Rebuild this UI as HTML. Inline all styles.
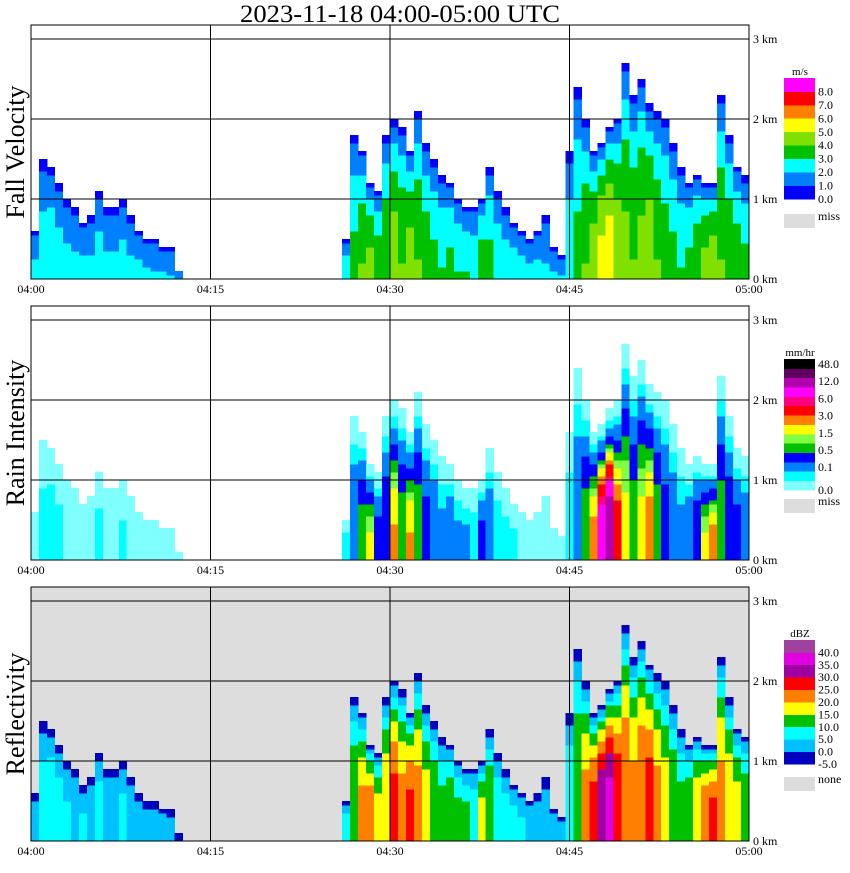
<!DOCTYPE html>
<html><head><meta charset="utf-8"><style>
html,body{margin:0;padding:0;background:#fff;}
svg text{font-family:"Liberation Serif",serif;fill:#000;}
</style></head><body>
<svg id="chart" width="850" height="868" xmlns="http://www.w3.org/2000/svg">
<text x="400" y="22" font-size="25" text-anchor="middle" textLength="320" lengthAdjust="spacingAndGlyphs">2023-11-18  04:00-05:00 UTC</text>
</svg>
<script>
// echo top height (km) per 40-second column, 04:00 -> 05:00
const echoTops = [0.6,1.5,1.4,1.2,1.0,0.9,0.7,0.8,1.1,0.9,0.9,1.0,0.8,0.6,0.5,0.5,0.4,0.4,0.1,
 0,0,0,0,0,0,0,0,0,0,0,0,0,0,0,0,0,0,0,0,
 0.5,1.8,1.6,1.2,1.1,1.8,2.0,1.9,1.6,2.1,1.7,1.5,1.3,1.2,1.0,0.9,0.9,1.0,1.4,1.1,0.9,0.7,0.6,0.5,0.6,0.8,0.4,0.3,
 1.6,2.4,2.0,1.6,1.7,1.9,2.0,2.7,2.3,2.5,2.2,2.1,2.0,1.7,1.4,1.2,1.3,1.2,1.2,2.3,1.8,1.4,1.3];
// peak low-level reflectivity (dBZ) per column
const peakDbz = [5,8,10,8,6,5,6,5,8,5,5,7,5,5,4,3,3,2,0,
 0,0,0,0,0,0,0,0,0,0,0,0,0,0,0,0,0,0,0,0,
 10,15,22,25,18,20,27,22,27,22,18,15,12,15,12,12,10,18,15,10,8,8,6,5,5,3,3,2,
 10,15,22,28,35,38,30,25,22,25,28,22,18,15,12,15,20,25,28,22,20,18,15];
const timeLabels = ["04:00","04:15","04:30","04:45","05:00"];
const kmLabels = ["0 km","1 km","2 km","3 km"];
const velBounds = [0,1,2,3,4,5,6,7,8];
const velColors = ["#0000ff","#0080ff","#00ffff","#00c000","#80e000","#ffff00","#ff8000","#ff0000","#ff00ff"];
const velLabels = ["8.0","7.0","6.0","5.0","4.0","3.0","2.0","1.0","0.0"];
const rainBounds = [0,0.1,0.2,0.5,1,1.5,2,3,4,6,8,12,24,48];
const rainColors = ["#80ffff","#00ffff","#0080ff","#0000ff","#00c000","#80ff40","#ffff00","#ff8000","#ff0000","#ff0080","#ff00ff","#b000b0","#600060","#000000"];
const rainLabels = ["48.0","12.0","6.0","3.0","1.5","0.5","0.1","0.0"];
const dbzBounds = [-5,0,5,10,15,20,25,30,35,40];
const dbzColors = ["#0000c0","#00c0ff","#00ffff","#00c000","#ffff00","#ff8000","#ff0000","#a000a0","#e000e0","#a040a0"];
const dbzLabels = ["40.0","35.0","30.0","25.0","20.0","15.0","10.0","5.0","0.0","-5.0"];

const svg = document.getElementById('chart');
const NS = "http://www.w3.org/2000/svg";
const X0 = 31, X1 = 749, PX_KM = 80;
const nCol = echoTops.length;
const colW = (X1 - X0) / nCol;
const xScale = i => X0 + i * colW;
const panels = [
 {top:25, name:'fall-velocity', title:'Fall Velocity', bg:'#ffffff'},
 {top:306, name:'rain-intensity', title:'Rain Intensity', bg:'#ffffff'},
 {top:587, name:'reflectivity', title:'Reflectivity', bg:'#dddddd'}];
function mk(tag, attrs, parent){ const e=document.createElementNS(NS,tag); for(const k in attrs) e.setAttribute(k,attrs[k]); (parent||svg).appendChild(e); return e; }
function pick(v, bounds, colors){ let c=null; for(let k=0;k<bounds.length;k++){ if(v>=bounds[k]) c=colors[k]; } return c; }
function dbzAt(i,h){ const t=echoTops[i]; if(!t||h>t) return null; const f=h/t; return peakDbz[i]*(1-f*f*f)-3*f*f*f*f; }

panels.forEach((p,pi)=>{
 const bottom = p.top + 254;
 const yScale = km => bottom - km*PX_KM;
 const g = mk('g',{});
 
 
 const bgR = mk('rect',{x:X0,y:p.top,width:X1-X0,height:254,fill:p.bg},g);
 
 
 const cells = mk('g',{'shape-rendering':'crispEdges'},g);
 
 
 const dh = 0.05;
 for(let i=0;i<nCol;i++){
  for(let h=0;h<echoTops[i];h+=dh){
   const z = dbzAt(i,h+dh/2); if(z===null) continue;
   let col;
   if(pi===0){ const v=0.9+z*0.1+1.0*(1-h/echoTops[i]); col=pick(Math.max(v,0),velBounds,velColors); }
   else if(pi===1){ const r=Math.pow(Math.pow(10,z/10)/100,1/1.4); col=pick(r,rainBounds,rainColors); }
   else col=pick(z,dbzBounds,dbzColors);
   if(!col) continue;
   const r = mk('rect',{x:xScale(i).toFixed(2),y:yScale(h+dh).toFixed(2),width:(colW+0.3).toFixed(2),height:(dh*PX_KM+0.3).toFixed(2),fill:col},cells);
   
   
  }
 }
 for(let k=1;k<4;k++){ const x=X0+k*(X1-X0)/4; const l=mk('line',{x1:x,x2:x,y1:p.top,y2:bottom,stroke:'#000','stroke-width':1},g);
    }
 for(let k=1;k<4;k++){ const y=yScale(k); const l=mk('line',{x1:X0,x2:X1,y1:y,y2:y,stroke:'#000','stroke-width':1},g);
    }
 const fr = mk('rect',{x:X0,y:p.top,width:X1-X0,height:254,fill:'none',stroke:'#000','stroke-width':1},g);
  
 timeLabels.forEach((t,k)=>{ const x=X0+k*(X1-X0)/4; const tx=mk('text',{x:x,y:bottom+14,'font-size':12,'text-anchor':'middle'},g); tx.textContent=t;
    });
 kmLabels.forEach((t,k)=>{ const tx=mk('text',{x:753,y:yScale(k)+4,'font-size':12},g); tx.textContent=t;
    });
 const yt = mk('text',{x:0,y:0,'font-size':26,'text-anchor':'middle',transform:`translate(24,${p.top+127}) rotate(-90)`},g);
 yt.textContent = p.title;
  
 const lg = mk('g',{'shape-rendering':'crispEdges'},g);
  
 let colors, ltop, lbot, unit, labs, missY, missTxt;
 if(pi===0){colors=velColors;ltop=78;lbot=199;unit='m/s';labs=velLabels;missY=214;missTxt='miss';}
 else if(pi===1){colors=rainColors;ltop=359;lbot=490;unit='mm/hr';labs=rainLabels;missY=499;missTxt='miss';}
 else {colors=dbzColors;ltop=640;lbot=764;unit='dBZ';labs=dbzLabels;missY=777;missTxt='none';}
 const bh=(lbot-ltop)/colors.length;
 const ut=mk('text',{x:800,y:ltop-3,'font-size':11,'text-anchor':'middle'},lg); ut.textContent=unit;
  
 for(let k=0;k<colors.length;k++){
  const r=mk('rect',{x:784,y:(lbot-(k+1)*bh).toFixed(2),width:31,height:(bh+0.4).toFixed(2),fill:colors[k]},lg);
   
 }
 labs.forEach((t,k)=>{
  let y;
  if(pi===1) y = ltop+5+k*(lbot-ltop-5)/(labs.length-1)*(k===labs.length-1?1:0.955);
  else y = ltop+bh*(k+1);
  const tx=mk('text',{x:818,y:(y+4).toFixed(1),'font-size':12},lg); tx.textContent=t;
   
 });
 const mr=mk('rect',{x:784,y:missY,width:31,height:14,fill:'#dddddd'},lg);
  
 const mt=mk('text',{x:818,y:missY+6,'font-size':12},lg); mt.textContent=missTxt;
  
});
</script>
</body></html>
